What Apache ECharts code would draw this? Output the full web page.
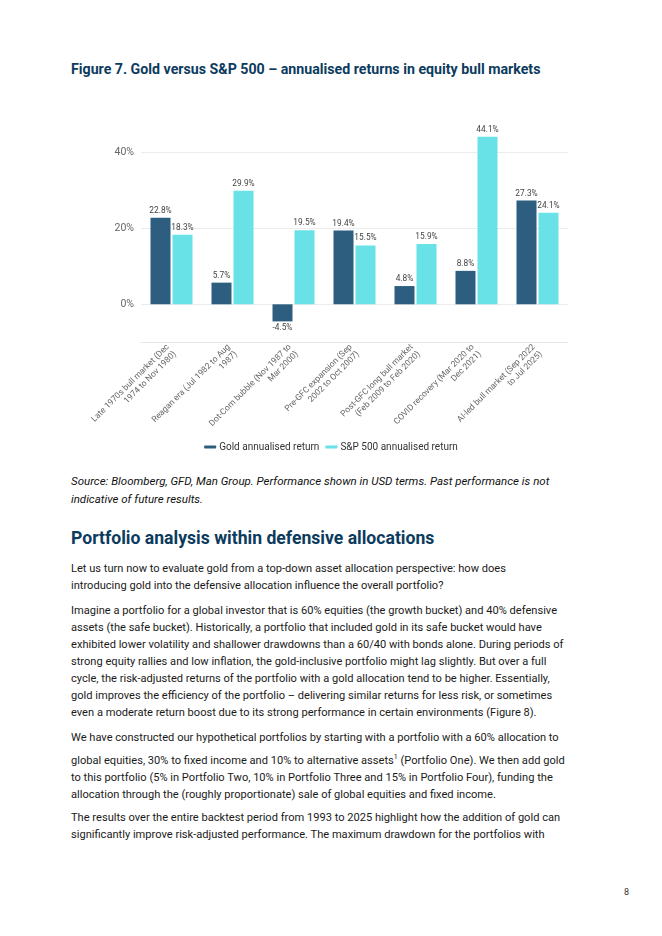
<!DOCTYPE html>
<html><head><meta charset="utf-8">
<script src="https://cdn.jsdelivr.net/npm/echarts@6/dist/echarts.min.js"></script>
<style>
html,body{margin:0;padding:0;background:#fff;}
body{width:662px;height:936px;position:relative;overflow:hidden;font-family:Roboto,"Noto Sans",sans-serif;color:#1a1a1a;}
.t{position:absolute;white-space:nowrap;}
#title{left:71px;top:61px;font-size:14.2px;font-weight:700;color:#0c3b5e;}
#chart{position:absolute;left:0;top:100px;width:662px;height:370px;}
#src{left:71px;top:472px;font-size:11.5px;font-style:italic;line-height:18px;color:#111;}
#h2{left:71px;top:528px;font-size:17.6px;font-weight:700;color:#0c3b5e;}
.p{left:71px;font-size:11.1px;line-height:17px;color:#1a1a1a;}
#pg{left:624px;top:887px;font-size:9px;color:#333;}
sup{font-size:7px;}
</style></head>
<body>
<div class="t" id="title">Figure 7. Gold versus S&amp;P 500 – annualised returns in equity bull markets</div>
<div id="chart"></div>
<div class="t" id="src">Source: Bloomberg, GFD, Man Group. Performance shown in USD terms. Past performance is not<br>indicative of future results.</div>
<div class="t" id="h2">Portfolio analysis within defensive allocations</div>
<div class="t p" style="top:560px">Let us turn now to evaluate gold from a top-down asset allocation perspective: how does<br>introducing gold into the defensive allocation influence the overall portfolio?</div>
<div class="t p" style="top:602px">Imagine a portfolio for a global investor that is 60% equities (the growth bucket) and 40% defensive<br>assets (the safe bucket). Historically, a portfolio that included gold in its safe bucket would have<br>exhibited lower volatility and shallower drawdowns than a 60/40 with bonds alone. During periods of<br>strong equity rallies and low inflation, the gold-inclusive portfolio might lag slightly. But over a full<br>cycle, the risk-adjusted returns of the portfolio with a gold allocation tend to be higher. Essentially,<br>gold improves the efficiency of the portfolio – delivering similar returns for less risk, or sometimes<br>even a moderate return boost due to its strong performance in certain environments (Figure 8).</div>
<div class="t p" style="top:729px;line-height:17px">We have constructed our hypothetical portfolios by starting with a portfolio with a 60% allocation to<br><span style="display:inline-block;margin-top:3px">global equities, 30% to fixed income and 10% to alternative assets<sup>1</sup> (Portfolio One). We then add gold</span><br>to this portfolio (5% in Portfolio Two, 10% in Portfolio Three and 15% in Portfolio Four), funding the<br>allocation through the (roughly proportionate) sale of global equities and fixed income.</div>
<div class="t p" style="top:809px">The results over the entire backtest period from 1993 to 2025 highlight how the addition of gold can<br>significantly improve risk-adjusted performance. The maximum drawdown for the portfolios with</div>
<div class="t" id="pg">8</div>
<script>
const categories = [
  "Late 1970s bull market (Dec\n1974 to Nov 1980)",
  "Reagan era (Jul 1982 to Aug\n1987)",
  "Dot-Com bubble (Nov 1987 to\nMar 2000)",
  "Pre-GFC expansion (Sep\n2002 to Oct 2007)",
  "Post-GFC long bull market\n(Feb 2009 to Feb 2020)",
  "COVID recovery (Mar 2020 to\nDec 2021)",
  "AI-led bull market (Sep 2022\nto Jul 2025)"
];
const goldReturn = [22.8, 5.7, -4.5, 19.4, 4.8, 8.8, 27.3];
const spReturn = [18.3, 29.9, 19.5, 15.5, 15.9, 44.1, 24.1];
const seriesNames = ["Gold annualised return", "S&P 500 annualised return"];

const chart = echarts.init(document.getElementById('chart'), null, {renderer:'canvas'});
const lbl = {show:true, fontSize:8.3, color:'#444', fontFamily:'Roboto', formatter: p => p.value.toFixed(1) + '%', distance:3, position:'top'};
chart.setOption({
  animation:false,
  textStyle:{fontFamily:'Roboto'},
  grid:{left:141, right:94, top:14.3, bottom:127.7},
  legend:{
    data:seriesNames, bottom:13, left:'center',
    icon:'roundRect', itemWidth:12, itemHeight:3, itemGap:6,
    textStyle:{fontSize:10, color:'#333', padding:[0,0,0,-2]}
  },
  xAxis:{
    type:'category', data:categories,
    axisLine:{onZero:false, lineStyle:{color:'#e6e6e6'}},
    axisTick:{show:false},
    axisLabel:{interval:0, rotate:45, fontSize:8.5, color:'#666', lineHeight:10, margin:7}
  },
  yAxis:{
    type:'value', min:-10, max:50, interval:10,
    axisLine:{show:false}, axisTick:{show:false},
    splitLine:{lineStyle:{color:['transparent','#ececec'], width:1}},
    axisLabel:{fontSize:10.5, color:'#666', margin:7,
      formatter: v => (v >= 0 && v % 20 === 0 && v < 50) ? v + '%' : ''}
  },
  series:[
    {name:seriesNames[0], type:'bar', barWidth:20, barGap:'10%',
     data:goldReturn.map(v => v < 0 ? {value:v, label:{position:'bottom'}} : v),
     itemStyle:{color:'#2d5e80'}, label:lbl},
    {name:seriesNames[1], type:'bar', data:spReturn, barWidth:20,
     itemStyle:{color:'#69e2e7'}, label:lbl}
  ]
});
</script>
</body></html>
